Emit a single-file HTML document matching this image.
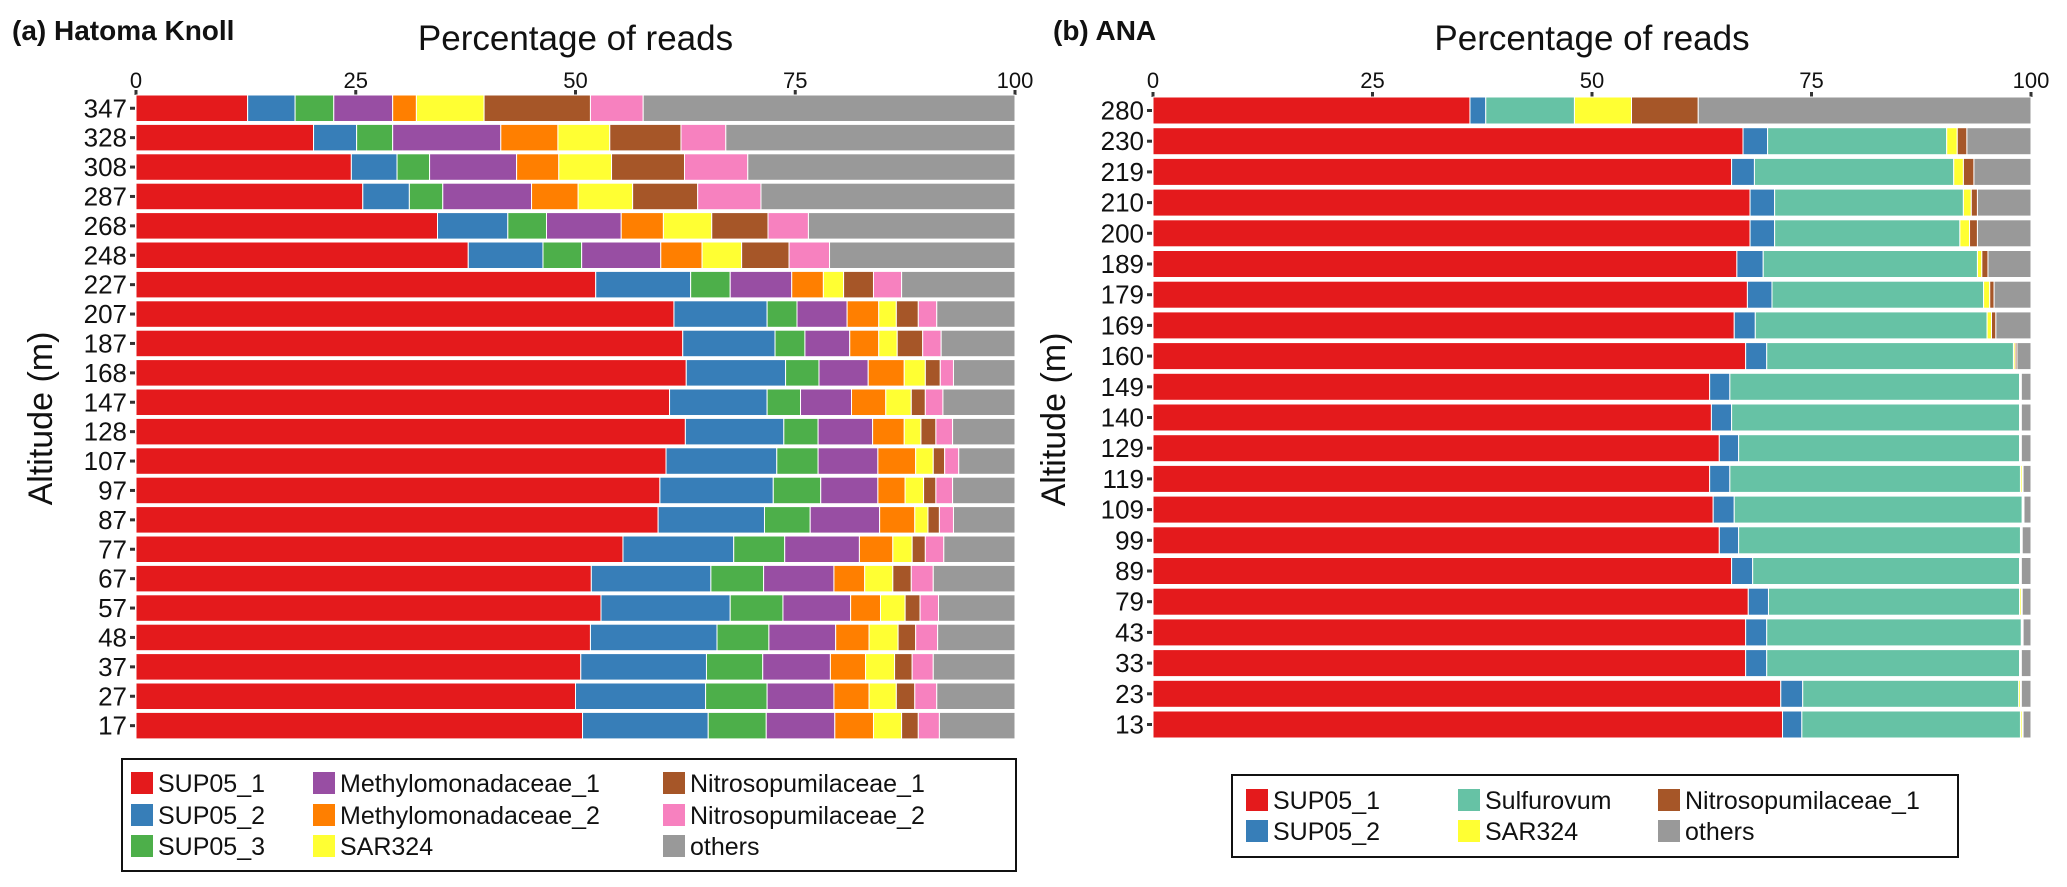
<!DOCTYPE html>
<html><head><meta charset="utf-8"><style>
body{margin:0;background:#fff;}
svg{display:block;font-family:"Liberation Sans",Arial,sans-serif;}
</style></head><body>
<svg id="chart" width="2067" height="887" viewBox="0 0 2067 887"></svg>
<script>
// Panel (a) Hatoma Knoll
const catsA = ["347","328","308","287","268","248","227","207","187","168","147","128","107","97","87","77","67","57","48","37","27","17"];
const seriesNamesA = ["SUP05_1","SUP05_2","SUP05_3","Methylomonadaceae_1","Methylomonadaceae_2","SAR324","Nitrosopumilaceae_1","Nitrosopumilaceae_2","others"];
// cumulative right edges (%) per series
const supA1 = [12.7,20.2,24.5,25.8,34.3,37.8,52.3,61.2,62.2,62.6,60.7,62.5,60.3,59.6,59.4,55.4,51.8,52.9,51.7,50.6,50.0,50.8];
const supA2 = [18.1,25.1,29.7,31.1,42.3,46.3,63.1,71.8,72.7,73.9,71.8,73.7,72.9,72.5,71.5,68.0,65.4,67.6,66.1,64.9,64.8,65.1];
const supA3 = [22.5,29.2,33.4,34.9,46.7,50.7,67.6,75.2,76.1,77.7,75.6,77.6,77.6,77.9,76.7,73.8,71.4,73.6,72.0,71.3,71.8,71.7];
const methA1 = [29.2,41.5,43.3,45.0,55.2,59.7,74.6,80.9,81.2,83.3,81.4,83.8,84.4,84.4,84.6,82.3,79.4,81.3,79.6,79.0,79.4,79.5];
const methA2 = [31.9,48.0,48.1,50.3,60.0,64.4,78.2,84.5,84.5,87.4,85.3,87.4,88.7,87.5,88.6,86.1,82.9,84.7,83.4,83.0,83.4,83.9];
const sarA = [39.6,53.9,54.1,56.5,65.5,68.9,80.5,86.5,86.6,89.8,88.2,89.3,90.7,89.6,90.1,88.3,86.1,87.5,86.7,86.3,86.5,87.1];
const nitA1 = [51.7,62.0,62.4,63.9,71.9,74.3,83.9,89.0,89.5,91.5,89.8,91.0,92.0,91.0,91.4,89.8,88.2,89.2,88.7,88.3,88.6,89.0];
const nitA2 = [57.7,67.1,69.6,71.1,76.5,78.9,87.1,91.1,91.6,93.0,91.8,92.9,93.6,92.9,93.0,91.9,90.7,91.3,91.2,90.7,91.1,91.4];
// Panel (b) ANA
const catsB = ["280","230","219","210","200","189","179","169","160","149","140","129","119","109","99","89","79","43","33","23","13"];
const seriesNamesB = ["SUP05_1","SUP05_2","Sulfurovum","SAR324","Nitrosopumilaceae_1","others"];
const supB1 = [36.1,67.2,65.9,68.0,68.0,66.5,67.7,66.2,67.5,63.4,63.6,64.5,63.4,63.8,64.5,65.9,67.8,67.5,67.5,71.5,71.7];
const supB2 = [37.9,70.0,68.5,70.8,70.8,69.5,70.5,68.6,69.9,65.7,65.9,66.7,65.7,66.2,66.7,68.3,70.1,69.9,69.9,74.0,73.9];
const sulB = [48.0,90.4,91.2,92.3,91.9,93.9,94.6,95.0,98.0,98.7,98.7,98.7,98.8,99.0,98.8,98.7,98.7,98.9,98.7,98.6,98.8];
const sarB = [54.5,91.6,92.3,93.2,93.0,94.4,95.3,95.5,98.2,98.8,98.8,98.8,99.0,99.1,98.9,98.8,98.9,99.0,98.8,98.8,99.0];
const nitB = [62.1,92.7,93.5,93.9,93.9,95.1,95.8,96.0,98.4,98.9,98.9,98.9,99.1,99.2,99.0,98.9,99.0,99.1,98.9,98.9,99.1];
const ticks = ["0","25","50","75","100"];
const tickVals = [0,25,50,75,100];

const colorsA = ["#e41a1c","#377eb8","#4daf4a","#984ea3","#ff7f00","#ffff33","#a65628","#f781bf","#999999"];
const colorsB = ["#e41a1c","#377eb8","#66c2a5","#ffff33","#a65628","#999999"];
const svg = document.getElementById('chart');
const NS = "http://www.w3.org/2000/svg";
function mk(tag, attrs, parent){const e=document.createElementNS(NS,tag);for(const k in attrs)e.setAttribute(k,attrs[k]);(parent||svg).appendChild(e);return e;}
function txt(s, attrs, parent){const e=mk('text',attrs,parent);e.textContent=s;return e;}

function panel(cfg){
  const g = mk('g',{});
  
  
  const xs = v => cfg.x0 + (cfg.x1-cfg.x0)*v/100;
  const ys = i => cfg.y0 + i*cfg.pitch;
  const lab = txt(cfg.label,{x:cfg.labX,y:40,'font-size':28,'font-weight':'bold',fill:'#111'},g);
  
  
  const tt = txt("Percentage of reads",{x:(cfg.x0+cfg.x1)/2,y:50,'font-size':35,'text-anchor':'middle',fill:'#111'},g);
  
  
  tickVals.forEach((v,i)=>{
    const t = txt(ticks[i],{x:xs(v),y:88,'font-size':22,'text-anchor':'middle',fill:'#111'},g);
    
    
    const m = mk('rect',{x:xs(v)-1.5,y:cfg.y0-5,width:3,height:5,fill:'#333'},g);
    
    
  });
  const yt = txt("Altitude (m)",{x:0,y:0,'font-size':34,'text-anchor':'middle',fill:'#111',transform:`translate(${cfg.ytX},${(cfg.y0+742)/2}) rotate(-90)`},g);
  
  
  cfg.cats.forEach((c,i)=>{
    const yc = ys(i)+cfg.barH/2;
    const l = txt(c,{x:cfg.x0-9,y:yc+9,'font-size':26,'text-anchor':'end',fill:'#111'},g);
    
    
    const m = mk('rect',{x:cfg.x0-6,y:yc-1.5,width:5,height:3,fill:'#333'},g);
    
    
    let prev = 0;
    cfg.series.forEach((arr,s)=>{
      const end = arr ? arr[i] : 100;
      const r = mk('rect',{x:xs(prev),y:ys(i),width:Math.max(0,xs(end)-xs(prev)),height:cfg.barH,fill:cfg.colors[s],stroke:'#fff','stroke-width':1},g);
      
      
      prev = end;
    });
  });
  // legend
  const box = mk('rect',{x:cfg.lg.x,y:cfg.lg.y,width:cfg.lg.w,height:cfg.lg.h,fill:'#fff',stroke:'#111','stroke-width':2},g);
  
  
  cfg.names.forEach((n,s)=>{
    const col = Math.floor(s/cfg.lg.rows), row = s%cfg.lg.rows;
    const sx = cfg.lg.cols[col], sy = cfg.lg.rowY[row];
    const sw = mk('rect',{x:sx,y:sy-11,width:22,height:22,fill:cfg.colors[s]},g);
    
    
    const t = txt(n,{x:sx+27,y:sy+9,'font-size':25,fill:'#111'},g);
    
    
  });
}
panel({name:'panel-a-hatoma-knoll',label:'(a) Hatoma Knoll',labX:12,x0:136,x1:1015,y0:95,pitch:29.4,barH:26.5,ytX:52,
  cats:catsA,names:seriesNamesA,colors:colorsA,series:[supA1,supA2,supA3,methA1,methA2,sarA,nitA1,nitA2,null],
  lg:{x:122,y:759,w:894,h:112,rows:3,cols:[131,313,663],rowY:[783,815,846]}});
panel({name:'panel-b-ana',label:'(b) ANA',labX:1053,x0:1153,x1:2031,y0:97,pitch:30.7,barH:27,ytX:1065,
  cats:catsB,names:seriesNamesB,colors:colorsB,series:[supB1,supB2,sulB,sarB,nitB,null],
  lg:{x:1232,y:775,w:726,h:82,rows:2,cols:[1246,1458,1658],rowY:[800,831]}});
</script>
</body></html>
